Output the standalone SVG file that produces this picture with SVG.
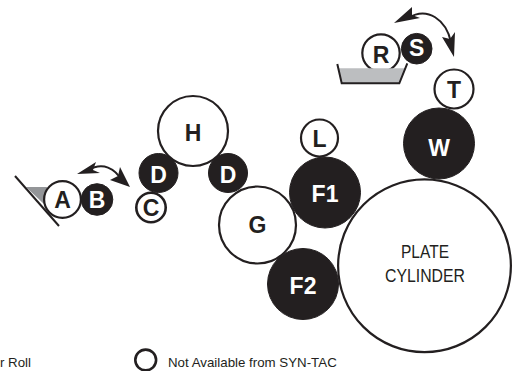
<svg xmlns="http://www.w3.org/2000/svg" width="516" height="371" viewBox="0 0 516 371">
<style>
text{font-family:"Liberation Sans",Arial,sans-serif;text-anchor:middle;font-weight:bold;fill:#231f20}
.w{fill:#fff;stroke:#231f20;stroke-width:2.2}
.k{fill:#231f20;stroke:#231f20;stroke-width:1}
.l{font-size:23px}
.wt{fill:#fff}
.n{font-weight:normal;font-size:18px}
.leg{font-weight:normal;font-size:13.300px;text-anchor:start}
.conn{fill:none;stroke:#231f20}
.head{fill:#231f20}
</style>
<g id="node-A"><path d="M26 187H47L45 205Z" fill="#939598"/><path d="M15 176L59 226" class="conn" stroke-width="2"/><circle class="w" cx="62.500" cy="199.500" r="18.400"/><text class="l" x="62.500" y="208">A</text></g>
<g id="node-B"><circle class="k" cx="97" cy="199.500" r="15.800"/><text class="l wt" x="97" y="208">B</text></g>
<g id="node-H"><circle class="w" cx="193" cy="131" r="35"/><text class="l" x="193" y="140.500">H</text></g>
<g id="node-C"><circle class="w" cx="151" cy="207.500" r="14.700" style="stroke-width:2.600"/><text class="l" x="151" y="216">C</text></g>
<g id="node-D1"><circle class="k" cx="158.500" cy="173" r="19.500"/><text class="l wt" x="158.500" y="182.500">D</text></g>
<g id="node-D2"><circle class="k" cx="228" cy="173" r="19.500"/><text class="l wt" x="228" y="182.500">D</text></g>
<g id="node-F2"><circle class="k" cx="303" cy="284" r="35.500"/><text class="l wt" x="303" y="294">F2</text></g>
<g id="node-F1"><circle class="k" cx="325" cy="192.500" r="35.500"/><text class="l wt" x="325" y="201.500">F1</text></g>
<g id="node-G"><circle class="w" cx="257.500" cy="225" r="38.500"/><text class="l" x="257.500" y="233">G</text></g>
<g id="node-L"><circle class="w" cx="319.500" cy="138" r="18.500"/><text class="l" x="319.500" y="146.500">L</text></g>
<g id="node-W"><circle class="k" cx="439" cy="143.500" r="35.500"/><text class="l wt" x="439" y="155.500">W</text></g>
<g id="node-plate"><circle class="w" cx="424.500" cy="265.800" r="86.400"/><text class="n" x="425" y="258" textLength="48" lengthAdjust="spacingAndGlyphs">PLATE</text><text class="n" x="425" y="281.500" textLength="80" lengthAdjust="spacingAndGlyphs">CYLINDER</text></g>
<g id="node-T"><circle class="w" cx="454" cy="89" r="19.500"/><text class="l" x="454" y="98">T</text></g>
<g id="node-R"><circle class="w" cx="381" cy="53" r="18.700"/><path d="M338.500 68.300H405.500L399 83.300H342Z" fill="#bcbec0"/><path d="M337.300 64L341.700 83.300H399.300L407.300 63.300" class="conn" stroke-width="2"/><text class="l" x="381" y="62.500">R</text></g>
<g id="node-S"><circle class="k" cx="416.700" cy="48.700" r="15.300"/><text class="l wt" x="416.700" y="56">S</text></g>
<g id="connectors">
<path class="conn" stroke-width="2" d="M88 170C103 162 115 168 122 181"/>
<path class="head" d="M77 174L96 162L93 170L100 173Z"/>
<path class="head" d="M130 187L110 180L118 176L120 167Z"/>
<path class="conn" stroke-width="2" d="M408 18C428 6 446 20 451 42"/>
<path class="head" d="M394 23L412 7L412 15L420 18Z"/>
<path class="head" d="M454 57L442 37L450 39L455 32Z"/>
</g>
<g id="legend"><text class="leg" x="0" y="367">r Roll</text><circle cx="145.700" cy="360" r="10.400" fill="#fff" stroke="#231f20" stroke-width="2.600"/><text class="leg" x="168" y="367">Not Available from SYN-TAC</text></g>
</svg>
